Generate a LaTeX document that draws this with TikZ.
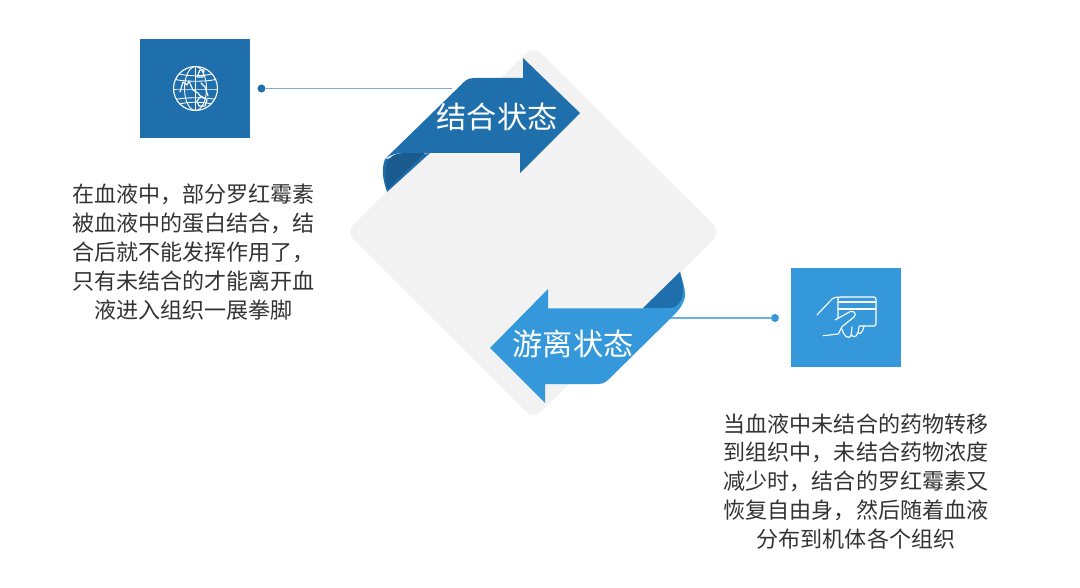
\documentclass[tikz,border=0pt]{standalone}
\usepackage{fontspec}
\usepackage{xcolor}
\setmainfont{Noto Sans CJK SC}
\definecolor{deepblue}{HTML}{1F6FAD}
\definecolor{darkfold}{HTML}{1A5C90}
\definecolor{skyblue}{HTML}{3498DB}
\definecolor{paneGray}{HTML}{F2F2F2}
\tikzset{
  squarebox/.style={minimum width=2.2cm,minimum height=1.97cm,inner sep=0pt,outer sep=0pt},
  leaddot/.style={circle,inner sep=0pt,minimum size=0.16cm},
  leadline/.style={line width=0.7pt},
  iconline/.style={draw=white,line width=0.65pt,line join=round,line cap=round},
  bodytext/.style={align=center,text=black!80,inner sep=0pt,font=\fontsize{12.55}{16.44}\selectfont},
  titletext/.style={text=white,inner sep=0pt,font=\fontsize{17.2}{20}\selectfont}
}
\begin{document}
\begin{tikzpicture}[x=0.02cm,y=-0.02cm]
\useasboundingbox(0,0)rectangle(1080,588);
\fill[paneGray,rounded corners=6pt](533.5,46)--(721,232)--(533.5,419)--(346,232)--cycle;
\node[squarebox,fill=deepblue](globebox)at(195,88.5){};
\node[squarebox,fill=skyblue](cardbox)at(846,317.5){};
\node[leaddot,fill=deepblue](globedot)at(261.5,88.5){};
\node[leaddot,fill=skyblue](carddot)at(775,318){};
\coordinate(globeend)at(452,88.5);
\coordinate(cardend)at(668,318);
\draw[leadline,draw=deepblue!60](globedot)--(globeend);
\draw[leadline,draw=skyblue!75](carddot)--(cardend);
\fill[deepblue](385,159)..controls(381,170)and(383,180)..(387,192)--(430,153)--cycle;
\fill[darkfold](388,160)..controls(384,170)and(385,180)..(388,189)--(425,153)--(405,153)..controls(397,153)and(392,155)..(388,160)--cycle;
\fill[deepblue](385,159)..controls(390,155)and(396,153)..(405,153)--(520,153)--(520,173)--(580,113)--(523,58)--(523,78)--(476,78)..controls(470,78)and(467,79)..(464,82)--cycle;
\fill[skyblue](677,308)..controls(684,303)and(686,298)..(685,292)..controls(684,285)and(682,279)..(680,272)--(640,312)--cycle;
\fill[deepblue](643,308)--(680,272)..controls(682,280)and(684,288)..(683,295)..controls(682,301)and(678,306)..(672,308)--cycle;
\fill[skyblue](490,348)--(548,289)--(548,308.5)--(672,308.5)..controls(678,306)and(682,302)..(684.5,296)..controls(684,305)and(678,311)..(672,317)--(609,379)..controls(606,382)and(603,384)..(598,384)--(545,384)--(545,403)--cycle;
\node[titletext](boundlabel)at(497,117){结合状态};
\node[titletext](freelabel)at(573,344){游离状态};
\node[bodytext](boundtext)at(193.5,252){在血液中，部分罗红霉素\\被血液中的蛋白结合，结\\合后就不能发挥作用了，\\只有未结合的才能离开血\\液进入组织一展拳脚};
\node[bodytext](freetext)at(856,481.5){当血液中未结合的药物转移\\到组织中，未结合药物浓度\\减少时，结合的罗红霉素又\\恢复自由身，然后随着血液\\分布到机体各个组织};
\draw[iconline](195.5,88.5)circle(22);
\begin{scope}
\clip(195.5,88.5)circle(22);
\draw[iconline,line width=0.5pt](195.5,66.5)--(195.5,110.5);
\draw[iconline,line width=0.5pt](195.5,88.5)ellipse[x radius=11,y radius=22];
\foreach \yy/\bow in {72/5,79/3,89/0,100/-3,106/-5}{
  \draw[iconline,line width=0.5pt](173,\yy)..controls(185,\yy+\bow)and(206,\yy+\bow)..(218,\yy);
}
\end{scope}
\draw[iconline](180,92)--(183,82)--(187,85)--(189,81)--(193,90)--(198,93)--(201,97);
\draw[iconline](197,77)--(200,70)--(204,70)--(203,77)--cycle;
\draw[iconline](197,101)--(201,96)--(207,100)--(205,106)--(199,106)--cycle;
\draw[iconline](201,83)--(205,87)--(208,96);
\draw[iconline,rounded corners=1.2pt](845,297)--(876,297)--(876,326)--(859,326);
\draw[iconline,rounded corners=1.2pt](845,297)--(838,297)--(838,318);
\draw[iconline](838,302)--(876,302);
\draw[iconline](838,309)--(876,309);
\draw[iconline](817,315)--(832,299)..controls(833,298)and(836,297)..(838,297);
\draw[iconline](835,320)--(850,311.7)..controls(854,310)and(857,314)..(854,317)--(842,326.7)--(838.3,334)--(823.3,335.7);
\draw[iconline](842,329)..controls(843,335)and(848,340)..(851,336)--(852,327);
\draw[iconline](851,335)..controls(855,339)and(858,336)..(859,327);
\draw[iconline](858,333)..controls(861,335)and(863,331)..(864,326);
\end{tikzpicture}
\end{document}
